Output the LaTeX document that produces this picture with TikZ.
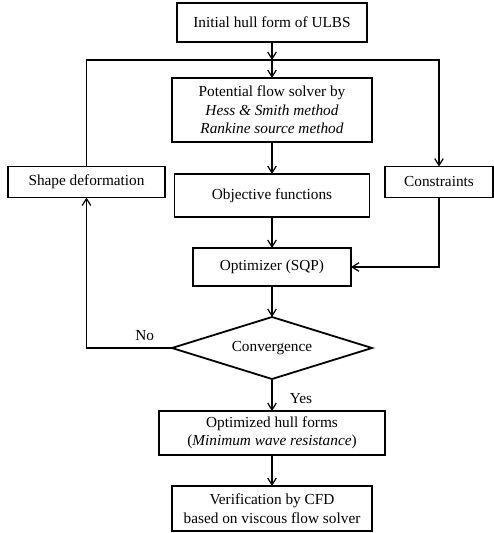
\documentclass[tikz,border=0pt]{standalone}
\usepackage{fontspec}
\setmainfont{Liberation Serif}
\usetikzlibrary{shapes.geometric, arrows.meta, positioning, calc}

\begin{document}
\begin{tikzpicture}[
    x=1pt, y=1pt,
    every node/.style={font=\fontsize{15.3}{18.4}\selectfont},
    block/.style={rectangle, draw, line width=1.8pt, minimum height=31pt,
                  inner sep=2pt, outer sep=0pt, align=center},
    decision/.style={diamond, draw, line width=1.8pt, minimum width=200pt,
                     minimum height=62pt, inner sep=0pt, outer sep=0pt, aspect=3.2},
    arr/.style={-{Straight Barb[length=2.4mm, width=3mm]}, line width=1.2pt},
    link/.style={line width=1.2pt}
]
    \useasboundingbox (0,0) rectangle (494,-533);
    % main column
    \node[block, minimum width=190pt, minimum height=39pt] (init) at (272,-22.5) {Initial hull form of ULBS};
    \coordinate (split) at (272,-60);
    \node[block, minimum width=200pt, minimum height=64pt, below=36pt of init] (solver)
        {Potential flow solver by\\\textit{Hess \& Smith method}\\\textit{Rankine source method}};
    \node[block, minimum width=195pt, minimum height=43pt, below=32pt of solver] (objfun) {Objective functions};
    \node[block, minimum width=158pt, minimum height=38pt, below=31pt of objfun] (optim) {Optimizer (SQP)};
    \node[decision, below=31pt of optim] (conv) {Convergence};
    \node[block, minimum width=226pt, minimum height=44pt, below=32pt of conv] (optform)
        {Optimized hull forms\\(\textit{Minimum wave resistance})};
    \node[block, minimum width=200pt, minimum height=45pt, below=31pt of optform] (verif)
        {Verification by CFD\\based on viscous flow solver};
    % side boxes
    \node[block, minimum width=157pt] (deform) at (86.5,-182) {Shape deformation};
    \node[block, minimum width=108pt] (constr) at (439,-182) {Constraints};

    \draw[arr] (init) -- (split);
    \draw[arr] (split) -- (solver);
    \draw[link] (deform.north) |- (split);
    \draw[arr] (split) -| (constr.north);
    \draw[arr] (solver) -- (objfun);
    \draw[arr] (objfun) -- (optim);
    \draw[arr] (constr.south) |- (optim.east);
    \draw[arr] (optim) -- (conv);
    \draw[arr] (conv.west) -| node[pos=0.16, above=3pt]{No} (deform.south);
    \draw[arr] (conv) -- node[pos=0.6, right=14pt]{Yes} (optform);
    \draw[arr] (optform) -- (verif);
\end{tikzpicture}
\end{document}
